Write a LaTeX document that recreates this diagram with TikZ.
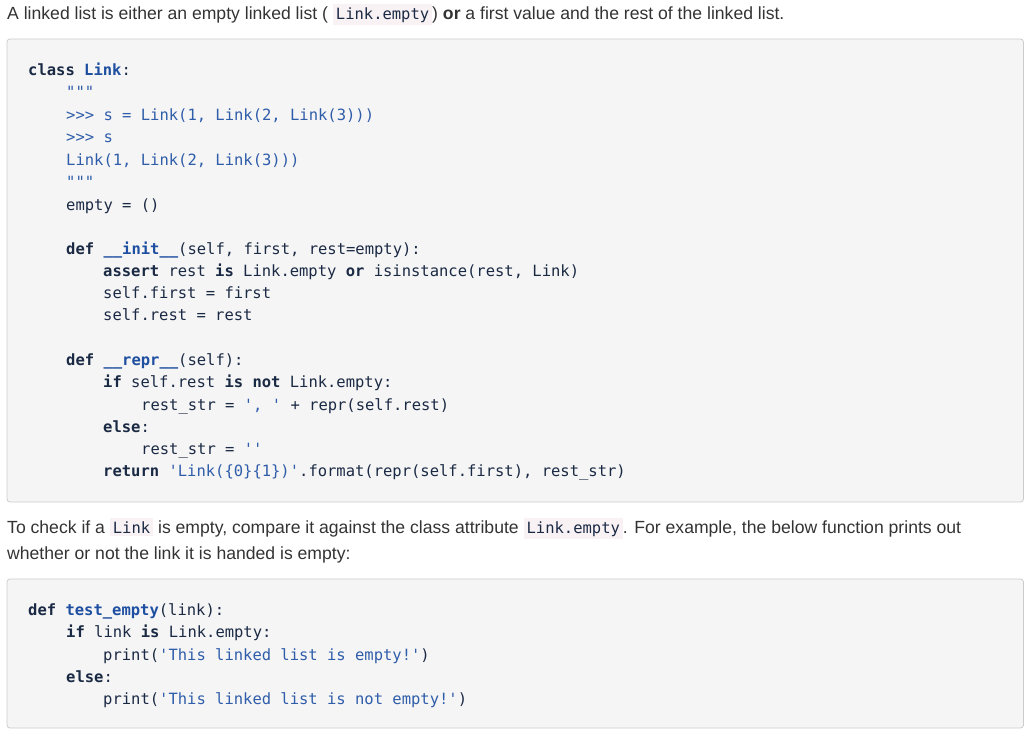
\documentclass[tikz,border=0pt]{standalone}
\usepackage{fontspec}
\setmainfont{Liberation Sans}
\newfontfamily\code{DejaVu Sans Mono}
\definecolor{txt}{HTML}{333333}
\definecolor{kwc}{HTML}{1B2A44}
\definecolor{blu}{HTML}{1E4FA0}
\definecolor{str}{HTML}{2F5DAA}
\definecolor{boxbg}{HTML}{F5F5F5}
\definecolor{boxln}{HTML}{CCCCCC}
\definecolor{icbg}{HTML}{F9F2F4}
\newcommand{\kw}[1]{\textcolor{kwc}{\bfseries #1}}
\newcommand{\nm}[1]{\textcolor{blu}{\bfseries #1}}
\newcommand{\st}[1]{\textcolor{str}{#1}}
\newcommand{\sq}{\char39}
\newcommand{\dq}{\char34}
\newcommand{\ic}[1]{{\setlength{\fboxsep}{3pt}\colorbox{icbg}{\code\fontsize{15.5}{18}\selectfont\textcolor{kwc}{#1}}}}
\begin{document}
\begin{tikzpicture}[x=1pt,y=-1pt,
  cl/.style={anchor=base west,inner sep=0pt,font=\code\fontsize{15.5}{18}\selectfont,text=kwc},
  para/.style={anchor=base west,inner sep=0pt,font=\fontsize{17.6}{26}\selectfont,text=txt},
  cbox/.style={draw=boxln,fill=boxbg,rounded corners=3pt,line width=0.8pt}]
\useasboundingbox (0,0) rectangle (1024,732);
\node[para] (p1) at (7,19) {A linked list is either an empty linked list ( \ic{Link.empty}) \textbf{or} a first value and the rest of the linked list.};
\filldraw[cbox] (7,39) rectangle (1023.5,502);
\node[cl] (a1) at (28,75) {\kw{class} \nm{Link}:};
\node[cl] (a2) at (66,97) {\st{\dq\dq\dq}};
\node[cl] (a3) at (66,120) {\st{>>> s = Link(1, Link(2, Link(3)))}};
\node[cl] (a4) at (66,142) {\st{>>> s}};
\node[cl] (a5) at (66,165) {\st{Link(1, Link(2, Link(3)))}};
\node[cl] (a6) at (66,187) {\st{\dq\dq\dq}};
\node[cl] (a7) at (66,210) {empty = ()};
\node[cl] (a8) at (66,254) {\kw{def} \nm{\_\_init\_\_}(self, first, rest=empty):};
\node[cl] (a9) at (103,276) {\kw{assert} rest \kw{is} Link.empty \kw{or} isinstance(rest, Link)};
\node[cl] (a10) at (103,298) {self.first = first};
\node[cl] (a11) at (103,320) {self.rest = rest};
\node[cl] (a12) at (66,365) {\kw{def} \nm{\_\_repr\_\_}(self):};
\node[cl] (a13) at (103,387) {\kw{if} self.rest \kw{is not} Link.empty:};
\node[cl] (a14) at (141,410) {rest\_str = \st{\sq, \sq} + repr(self.rest)};
\node[cl] (a15) at (103,432) {\kw{else}:};
\node[cl] (a16) at (141,454) {rest\_str = \st{\sq\sq}};
\node[cl] (a17) at (103,476) {\kw{return} \st{\sq Link(\{0\}\{1\})\sq}.format(repr(self.first), rest\_str)};
\node[para] (p2) at (7,533) {To check if a \ic{Link} is empty, compare it against the class attribute \ic{Link.empty}. For example, the below function prints out};
\node[para] (p3) at (7,559) {whether or not the link it is handed is empty:};
\filldraw[cbox] (7,579) rectangle (1023.5,728);
\node[cl] (b1) at (28,615) {\kw{def} \nm{test\_empty}(link):};
\node[cl] (b2) at (66,637) {\kw{if} link \kw{is} Link.empty:};
\node[cl] (b3) at (103,660) {print(\st{\sq This linked list is empty!\sq})};
\node[cl] (b4) at (66,682) {\kw{else}:};
\node[cl] (b5) at (103,704) {print(\st{\sq This linked list is not empty!\sq})};
\end{tikzpicture}
\end{document}
